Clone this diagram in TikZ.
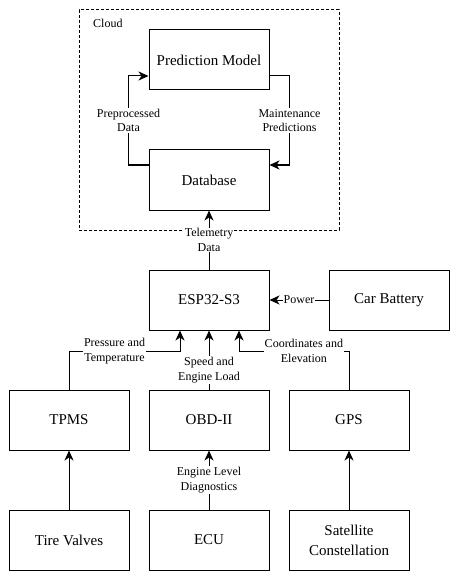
\documentclass[tikz,border=0pt]{standalone}
\usepackage{fontspec}
\setmainfont{Liberation Serif}
\usetikzlibrary{arrows.meta,calc}
\begin{document}
\begin{tikzpicture}[x=1pt,y=-1pt,
  box/.style={draw,line width=1pt,minimum width=120pt,minimum height=60pt,inner sep=0pt,align=center,font=\fontsize{15}{20}\selectfont},
  lbl/.style={fill=white,inner sep=1pt,align=center,font=\fontsize{12}{14.5}\selectfont},
  conn/.style={line width=1pt,-{Stealth[length=10pt,width=9pt,inset=3pt]}}]
\useasboundingbox (0,0) rectangle (460,580);
\node[draw,line width=1pt,dash pattern=on 3pt off 2pt,minimum width=260pt,minimum height=220pt,inner sep=0pt] (cloud) at (209,120) {};
\node[anchor=west,inner sep=0pt,font=\fontsize{12}{14}\selectfont] (cloudlbl) at (93,23) {Cloud};
\node[box] (pred) at (209,60) {Prediction Model};
\node[box] (db) at (209,180) {Database};
\node[box] (esp) at (209,300) {ESP32-S3};
\node[box] (bat) at (389,300) {Car Battery};
\node[box] (tpms) at (69,420) {TPMS};
\node[box] (obd) at (209,420) {OBD-II};
\node[box] (gps) at (349,420) {GPS};
\node[box] (tire) at (69,540) {Tire Valves};
\node[box] (ecu) at (209,540) {ECU};
\node[box] (sat) at (349,540) {Satellite\\Constellation};
\coordinate (tj) at ($(esp.south)+(-29,20.5)$);
\coordinate (gj) at ($(esp.south)+(30,20.5)$);
\draw[conn] ($(db.west)+(0,-15)$) -- ++(-20,0) |- node[lbl,pos=0.25]{Preprocessed\\Data} ($(pred.west)+(0,16)$);
\draw[conn] ($(pred.east)+(0,16)$) -- ++(20,0) |- node[lbl,pos=0.25]{Maintenance\\Predictions} ($(db.east)+(0,-15)$);
\draw[conn] (esp.north) -- node[lbl]{Telemetry\\Data} (db.south);
\draw[conn] (bat.west) -- node[lbl]{Power} (esp.east);
\draw[conn] (tpms.north) -- (tpms.north |- tj) -- node[lbl,pos=0.41]{Pressure and\\Temperature} (tj) -- ($(esp.south)+(-29,0)$);
\draw[conn] (gps.north) -- (gps.north |- gj) -- node[lbl,pos=0.41]{Coordinates and\\Elevation} (gj) -- ($(esp.south)+(30,0)$);
\draw[conn] (obd.north) -- node[lbl,pos=0.33]{Speed and\\Engine Load} (esp.south);
\draw[conn] (ecu.north) -- node[lbl]{Engine Level\\Diagnostics} (obd.south);
\draw[conn] (tire.north) -- (tpms.south);
\draw[conn] (sat.north) -- (gps.south);
\end{tikzpicture}
\end{document}
